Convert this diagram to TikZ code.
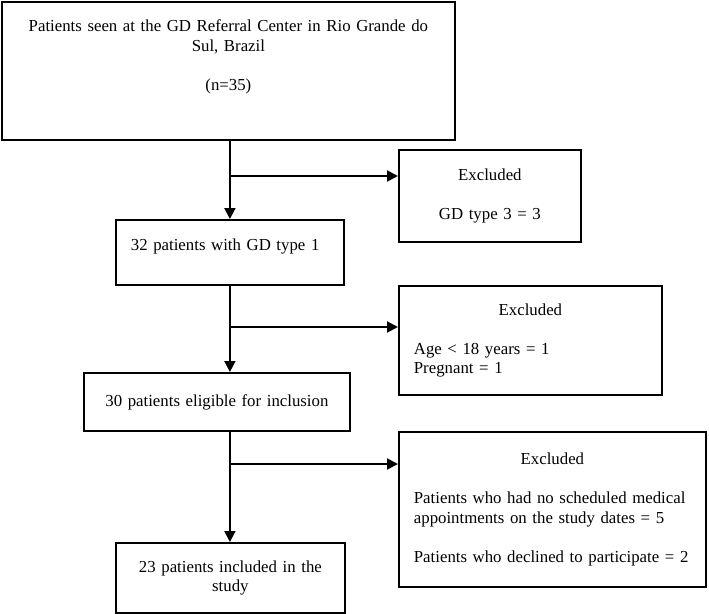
\documentclass[tikz,border=0pt]{standalone}
\usepackage{fontspec}
\setmainfont{Liberation Serif}
\usetikzlibrary{arrows.meta}

\begin{document}
\begin{tikzpicture}[x=1pt, y=-1pt,
    flowbox/.style={draw, line width=1.8pt, anchor=north west, inner xsep=15pt, inner ysep=0pt,
      font=\fontsize{16.8}{19.6}\selectfont},
    arr/.style={line width=2pt, -{Triangle[length=11pt,width=11pt]}}]
    \useasboundingbox (0,0) rectangle (709,613);

    \node[flowbox, minimum width=453pt, minimum height=138pt, text width=423pt, align=center] (seen) at (1,1)
      {Patients seen at the GD Referral Center in Rio Grande do\\ Sul, Brazil\\[19.6pt] (n=35)\\[11.4pt] \mbox{}};
    \node[flowbox, minimum width=228pt, minimum height=65pt, text width=198pt, align=left, text depth=15pt] (gdone) at (115,219)
      {32 patients with GD type 1};
    \node[flowbox, minimum width=266pt, minimum height=58pt, text width=236pt, align=center] (elig) at (83,372)
      {30 patients eligible for inclusion};
    \node[flowbox, minimum width=229pt, minimum height=70pt, text width=199pt, align=center] (incl) at (115,542)
      {23 patients included in the\\ study};

    \node[flowbox, minimum width=182pt, minimum height=92pt, text width=152pt, align=center] (exA) at (398,149)
      {Excluded\\[19.6pt] GD type 3 = 3};
    \node[flowbox, minimum width=263pt, minimum height=109pt, text width=233pt, align=left] (exB) at (398,285)
      {\noindent\makebox[\hsize]{Excluded}\\[19.6pt] Age < 18 years = 1\\ Pregnant = 1};
    \node[flowbox, minimum width=307pt, minimum height=155pt, text width=277pt, align=left] (exC) at (398,431)
      {\noindent\makebox[\hsize]{Excluded}\\[19.6pt] \mbox{Patients who had no scheduled medical}\\ \mbox{appointments on the study dates = 5}\\[19.6pt] \mbox{Patients who declined to participate = 2}};

    \draw[arr] (seen.south -| gdone.north) -- (gdone.north);
    \coordinate (forkA) at (gdone.north |- 0,176);
    \draw[arr] (forkA) -- (forkA -| exA.west);

    \draw[arr] (gdone.south) -- (gdone.south |- elig.north);
    \coordinate (forkB) at (gdone.south |- 0,327);
    \draw[arr] (forkB) -- (forkB -| exB.west);

    \draw[arr] (gdone.south |- elig.south) -- (gdone.south |- incl.north);
    \coordinate (forkC) at (gdone.south |- 0,464);
    \draw[arr] (forkC) -- (forkC -| exC.west);
\end{tikzpicture}
\end{document}
